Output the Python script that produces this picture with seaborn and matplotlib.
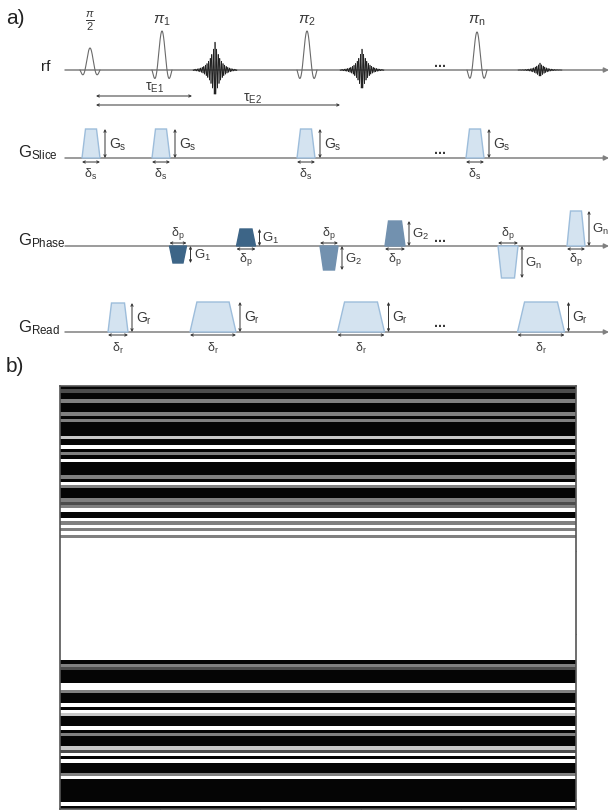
import numpy as np
import matplotlib
matplotlib.use("Agg")
import matplotlib.pyplot as plt
import seaborn as sns

# ---- panel a: pulse sequence (times in schematic units) ----
rf_times = [90, 162, 307, 477]
rf_amps = [22, 39, 39, 38]
rf_labels = [r"$\frac{\pi}{2}$", r"$\pi_1$", r"$\pi_2$", r"$\pi_{\rm n}$"]
echo_times = [215, 362, 540]
echo_amps = [28, 21, 7]

tau_start = 96
tau_ends = [192, 340]
tau_labels = [r"$\mathrm{\tau}_{\rm E1}$", r"$\mathrm{\tau}_{\rm E2}$"]

slice_times = [91, 161, 306, 475]
slice_widths = [18, 18, 18, 18]
slice_amps = [29, 29, 29, 29]

phase_times = [178, 246, 329, 395, 508, 576]
phase_widths = [17, 19, 18, 20, 20, 18]
phase_amps = [-17, 17, -24, 25, -32, 35]
phase_labels = ["1", "1", "2", "2", "n", "n"]

read_times = [118, 213, 361, 541]
read_widths = [20, 46, 47, 47]
read_amps = [29, 30, 30, 30]

# ---- panel b: stripe pattern, one code per row (k=black .. w=white) ----
levels = {"k": 0.02, "d": 0.3, "g": 0.5, "l": 0.78, "w": 1.0}
stripe_top = "kdkkgkkkgkgkkkklkkwkgkwkkkkgkwgkkkgdgwkkwgwgwg"
stripe_gap = 37
stripe_bottom = "kgdkkkkwwgkkkwkwlkkkwkgkkkldwkwkkkgwkkkkkkkwk"
n_cols = 103
x_ticks = [20, 40, 60, 80, 100]
y_ticks = [25, 50, 75, 100, 125]

sns.set_style("white")
plt.rcParams["font.family"] = ["Liberation Sans", "DejaVu Sans"]
plt.rcParams["mathtext.fontset"] = "custom"
plt.rcParams["mathtext.rm"] = "Liberation Sans"
plt.rcParams["mathtext.it"] = "Liberation Sans:italic"
plt.rcParams["mathtext.bf"] = "Liberation Sans:bold"

fig = plt.figure(figsize=(6.09, 8.12), dpi=100)

# panel a
ax = fig.add_axes([0, 1 - 345 / 812, 1, 345 / 812])
ax.set_xlim(0, 609)
ax.set_ylim(345, 0)
ax.axis("off")

rf_y, slice_y, phase_y, read_y = 71, 159, 247, 333
line_c = "#808080"
ink = "#333333"
txt_c = "#3a3a3a"
light_fill, light_edge = "#d4e3f0", "#9dbddb"
dark_fill = "#3d6587"
mid_fill = "#7291af"
phase_fill = [dark_fill, dark_fill, mid_fill, mid_fill, light_fill, light_fill]
phase_edge = [dark_fill, dark_fill, mid_fill, mid_fill, light_edge, light_edge]


def axis_line(y):
    ax.annotate("", xy=(609, y), xytext=(65, y),
                arrowprops=dict(arrowstyle="-|>", color=line_c, lw=1.1,
                                mutation_scale=7, shrinkA=0, shrinkB=0))


def dbl_arrow(x0, y0, x1, y1, lw=0.7):
    ax.annotate("", xy=(x1, y1), xytext=(x0, y0),
                arrowprops=dict(arrowstyle="<->", color=ink, lw=lw,
                                mutation_scale=4, shrinkA=0, shrinkB=0))


def lobe(t, w, a, y0, fc, ec):
    r = max(3.5, 0.15 * w)
    xs = [t - w / 2, t - w / 2 + r, t + w / 2 - r, t + w / 2]
    ys = [y0, y0 - a, y0 - a, y0]
    ax.fill(xs, ys, facecolor=fc, edgecolor=ec, lw=1.0, zorder=3)


for y in [rf_y, slice_y, phase_y, read_y]:
    axis_line(y)

# row labels
ax.text(50, 67, "rf", fontsize=11, ha="right", va="center", color="#222")
ax.text(18, 153, r"G$_{\rm Slice}$", fontsize=12, ha="left", va="center", color="#222")
ax.text(18, 241, r"G$_{\rm Phase}$", fontsize=12, ha="left", va="center", color="#222")
ax.text(18, 328, r"G$_{\rm Read}$", fontsize=12, ha="left", va="center", color="#222")

ax.text(6, 18, "a)", fontsize=15, ha="left", va="center", color="#222")

# rf pulses (sinc)
for i, (t, a, lab) in enumerate(zip(rf_times, rf_amps, rf_labels)):
    xs = np.linspace(t - 10, t + 10, 200)
    ax.plot(xs, rf_y - a * np.sinc((xs - t) / 5), color="#6a6a6a", lw=0.8, zorder=3)
    ax.text(t, 21, lab, fontsize=11.5 if i == 0 else 11,
            ha="center", va="center", color=txt_c)

# echoes
for t, a in zip(echo_times, echo_amps):
    xs = np.linspace(t - 22, t + 22, 1500)
    env = a * np.exp(-np.abs(xs - t) / 5.5)
    ax.plot(xs, rf_y - env * np.cos(2 * np.pi * (xs - t) / 1.6),
            color="#222", lw=0.5, zorder=3)

# tau arrows
for end, lab, ya, yl, xl in zip(tau_ends, tau_labels, [97, 106], [88, 99], [155, 252]):
    dbl_arrow(tau_start, ya, end, ya)
    ax.text(xl, yl, lab, fontsize=10, ha="center", va="center", color=txt_c)

# slice gradients
for t, w, a in zip(slice_times, slice_widths, slice_amps):
    lobe(t, w, a, slice_y, light_fill, light_edge)
    xa = t + w / 2 + 5
    dbl_arrow(xa, slice_y, xa, slice_y - a)
    ax.text(xa + 4, slice_y - a / 2, r"G$_{\rm s}$", fontsize=10, ha="left", va="center", color=txt_c)
    dbl_arrow(t - w / 2, slice_y + 4, t + w / 2, slice_y + 4)
    ax.text(t, slice_y + 15, r"$\mathrm{\delta}_{\rm s}$", fontsize=9, ha="center", va="center", color=txt_c)

# phase gradients
for t, w, a, lab, fc, ec in zip(phase_times, phase_widths, phase_amps, phase_labels,
                                phase_fill, phase_edge):
    lobe(t, w, a, phase_y, fc, ec)
    xa = t + w / 2 + 4
    dbl_arrow(xa, phase_y, xa, phase_y - a)
    ax.text(xa + 3, phase_y - a / 2, r"G$_{\rm %s}$" % lab, fontsize=9.5,
            ha="left", va="center", color=txt_c)
    side = 1 if a > 0 else -1
    dbl_arrow(t - w / 2, phase_y + 3 * side, t + w / 2, phase_y + 3 * side)
    ax.text(t, phase_y + 13 * side, r"$\mathrm{\delta}_{\rm p}$", fontsize=9,
            ha="center", va="center", color=txt_c)

# read gradients
for t, w, a in zip(read_times, read_widths, read_amps):
    lobe(t, w, a, read_y, light_fill, light_edge)
    xa = t + w / 2 + 4
    dbl_arrow(xa, read_y, xa, read_y - a)
    ax.text(xa + 4, read_y - a / 2, r"G$_{\rm r}$", fontsize=10, ha="left", va="center", color=txt_c)
    dbl_arrow(t - w / 2, read_y + 3, t + w / 2, read_y + 3)
    ax.text(t, read_y + 15, r"$\mathrm{\delta}_{\rm r}$", fontsize=9, ha="center", va="center", color=txt_c)

# ellipses
for y in [63, 150, 238, 323]:
    ax.text(440, y, "...", fontsize=10, fontweight="bold", ha="center", va="center", color=txt_c)

# panel b
fig.text(6 / 609, 1 - 367 / 812, "b)", fontsize=15, ha="left", va="center", color="#222")

profile = np.array([levels[c] for c in stripe_top + "w" * stripe_gap + stripe_bottom])
img = np.tile(profile[:, None], (1, n_cols))

axb = fig.add_axes([60 / 609, 2 / 812, 516 / 609, 423 / 812])
sns.heatmap(img, cmap="gray", vmin=0, vmax=1, cbar=False, ax=axb,
            xticklabels=False, yticklabels=False)
axb.set_xticks(x_ticks)
axb.set_yticks(y_ticks)
axb.tick_params(direction="in", length=4, width=0.8, color="#555",
                bottom=True, top=True, left=True, right=True,
                labelbottom=False, labelleft=False)
for s in axb.spines.values():
    s.set_visible(True)
    s.set_color("#555")
    s.set_linewidth(1.2)

fig.savefig("out.png", dpi=100)
